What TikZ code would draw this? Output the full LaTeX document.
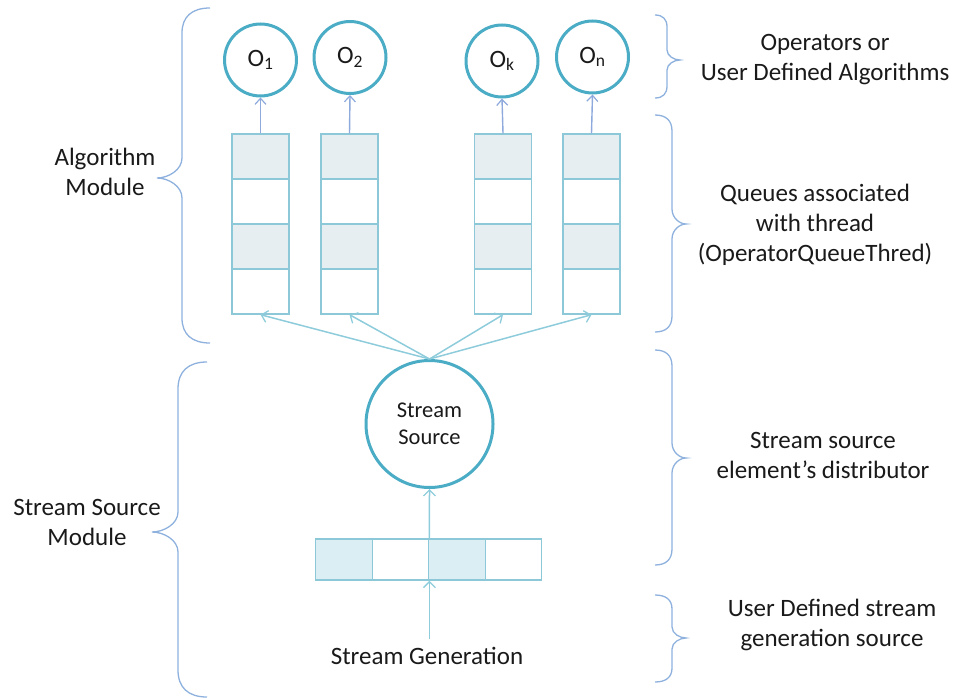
\documentclass[tikz,border=0pt]{standalone}
\usepackage{fontspec}
\setmainfont{Carlito}
\usetikzlibrary{arrows.meta}

\definecolor{ringteal}{HTML}{4BACC6}
\definecolor{qline}{HTML}{8CC8D8}
\definecolor{qshade}{HTML}{E6EEF2}
\definecolor{bshade}{HTML}{DAEEF3}
\definecolor{uparrow}{HTML}{8EA9DB}
\definecolor{fanline}{HTML}{8ECCDC}
\definecolor{bracecol}{HTML}{8EB1DE}
\definecolor{txt}{HTML}{1A1A1A}

% brace: end x, spine x, tip x, top y, tip y, bottom y, end-curve height, tip-curve height
\newcommand{\bracepath}[8]{%
  \draw[bracestyle] (#1,#4)
    .. controls ({#2+(#1-#2)*0.35},#4) and (#2,{#4+#7*0.35}) .. (#2,{#4+#7})
    -- (#2,{#5-#8})
    .. controls (#2,{#5-#8*0.4}) and ({#3+(#2-#3)*0.45},#5) .. (#3,#5)
    .. controls ({#3+(#2-#3)*0.45},#5) and (#2,{#5+#8*0.4}) .. (#2,{#5+#8})
    -- (#2,{#6-#7})
    .. controls (#2,{#6-#7*0.35}) and ({#2+(#1-#2)*0.35},#6) .. (#1,#6);}

\tikzset{
  lab/.style={text=txt, align=center, inner sep=0pt,
    font=\fontsize{25}{30}\selectfont},
  opnode/.style={circle, draw=ringteal, line width=3pt, fill=white,
    minimum size=72pt, inner sep=0pt, text=txt,
    font=\fontsize{25}{30}\selectfont},
  srcnode/.style={circle, draw=ringteal, line width=3pt, fill=white,
    minimum size=127pt, inner sep=0pt, text=txt, align=center,
    font=\fontsize{22.5}{27}\selectfont},
  qcell/.style={draw=qline, line width=1.4pt, fill=white,
    minimum width=57pt, minimum height=45pt, inner sep=0pt},
  bcell/.style={draw=qline, line width=1.4pt, fill=white,
    minimum width=56.5pt, minimum height=41pt, inner sep=0pt},
  uparr/.style={draw=uparrow, line width=1.4pt,
    -{Straight Barb[length=6pt,width=11pt,line width=1.2pt]}},
  fanarr/.style={draw=fanline, line width=1.5pt,
    -{Straight Barb[length=6pt,width=12pt,line width=1.3pt]}},
  bracestyle/.style={draw=bracecol, line width=1.3pt},
}

\begin{document}
\begin{tikzpicture}[x=1pt,y=-1pt]
  \useasboundingbox (0,0) rectangle (955,698);

  % operator circles
  \node[opnode] (o1) at (260.5,60)  {O\textsubscript{1}};
  \node[opnode] (o2) at (350,57.5)  {O\textsubscript{2}};
  \node[opnode] (ok) at (502,61)    {O\textsubscript{k}};
  \node[opnode] (on) at (592.5,57)  {O\textsubscript{n}};

  % operator queues, four cells each
  \foreach \i/\x in {1/260.5,2/349.5,3/503,4/591.5}{
    \node[qcell,fill=qshade] (q\i-1) at (\x,156.5) {};
    \node[qcell]             (q\i-2) at (\x,201.5) {};
    \node[qcell,fill=qshade] (q\i-3) at (\x,246.5) {};
    \node[qcell]             (q\i-4) at (\x,291.5) {};
  }

  % stream source
  \node[srcnode] (src) at (429.5,424) {Stream\\Source};

  % stream buffer
  \node[bcell,fill=bshade] (b1) at (344,559.5)   {};
  \node[bcell]             (b2) at (400.5,559.5) {};
  \node[bcell,fill=bshade] (b3) at (457,559.5)   {};
  \node[bcell]             (b4) at (513.5,559.5) {};

  \node[lab] (gen) at (427,656) {Stream Generation};

  % connectors
  \foreach \i/\o in {1/o1,2/o2,3/ok,4/on}
    \draw[uparr] (q\i-1.north) -- (\o.south);
  \foreach \i in {1,...,4}
    \draw[fanarr] (src.north) -- (q\i-4.south);
  \draw[fanarr] (b2.north east) -- (src.south);
  \draw[fanarr, shorten <=8pt] (gen.north -| b2.south east) -- (b2.south east);

  % left braces and labels
  \bracepath{210}{182}{157}{8}{178}{343}{25}{20}
  \bracepath{207}{178}{152}{362}{532}{697}{27}{20}
  \node[lab] (alg) at (105,172) {Algorithm\\Module};
  \node[lab] (ssm) at (87,522)  {Stream Source\\Module};

  % right braces and labels
  \bracepath{655}{667}{680}{15}{60}{98}{12}{10}
  \bracepath{655}{672}{686}{115}{224}{332}{16}{15}
  \bracepath{655}{672}{686}{350}{458}{565}{16}{15}
  \bracepath{655}{672}{686}{595}{638}{682}{14}{11}

  \node[lab] (opl) at (825,60)  {Operators or\\User Defined Algorithms};
  \node[lab] (qul) at (815,225) {Queues associated\\with thread\\(OperatorQueueThred)};
  \node[lab] (sdl) at (823,455) {Stream source\\element’s distributor};
  \node[lab] (ugl) at (832,625) {User Defined stream\\generation source};
\end{tikzpicture}
\end{document}
